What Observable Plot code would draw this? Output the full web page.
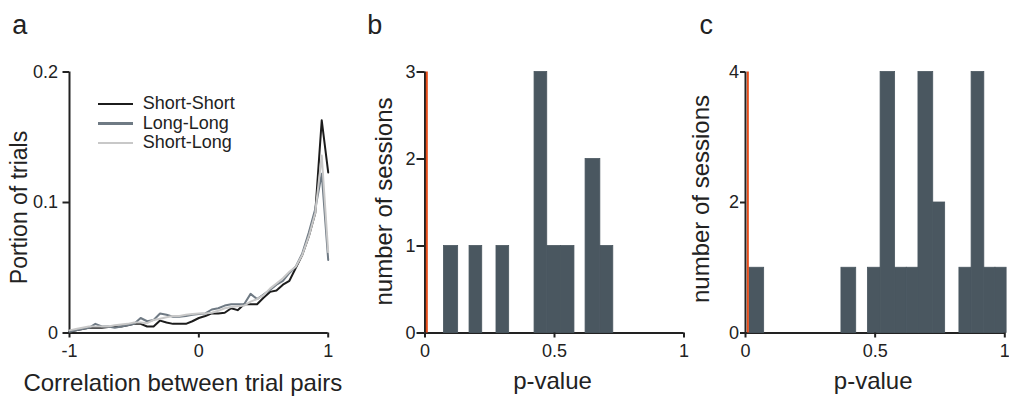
<!DOCTYPE html>
<html>
<head>
<meta charset="utf-8">
<script src="https://cdn.jsdelivr.net/npm/d3@7"></script>
<script src="https://cdn.jsdelivr.net/npm/@observablehq/plot@0.6"></script>
<style>
html, body { margin: 0; padding: 0; background: #fff; }
#root { position: relative; width: 1009px; height: 396px; overflow: hidden; font-family: "Liberation Sans", Arial, sans-serif; }
#root svg { position: absolute; left: 0; top: 0; overflow: visible; }
.legend { position: absolute; left: 98px; top: 94.3px; font-size: 18px; color: #222; }
.legend .row { height: 19.5px; line-height: 19.5px; display: flex; align-items: center; white-space: nowrap; }
.legend .sw { display: inline-block; width: 35px; height: 2.5px; margin-right: 9.7px; }
</style>
</head>
<body>
<div id="root"></div>
<script>
// ---------- Panel a: distribution of correlations ----------
const corrX = [-1, -0.95, -0.9, -0.85, -0.8, -0.75, -0.7, -0.65, -0.6, -0.55, -0.5, -0.45, -0.4, -0.35, -0.3, -0.25, -0.2, -0.15, -0.1, -0.05,
  0, 0.05, 0.1, 0.15, 0.2, 0.25, 0.3, 0.35, 0.4, 0.45, 0.5, 0.55, 0.6, 0.65, 0.7, 0.75, 0.8, 0.85, 0.9, 0.95, 1.0];
const shortShort = [0.001, 0.002, 0.003, 0.004, 0.004, 0.004, 0.0045, 0.005, 0.005, 0.006, 0.007, 0.007, 0.005, 0.005, 0.0095, 0.008, 0.007, 0.007, 0.007, 0.009,
  0.0115, 0.013, 0.015, 0.015, 0.0155, 0.019, 0.0175, 0.022, 0.022, 0.022, 0.027, 0.0315, 0.0325, 0.037, 0.040, 0.050, 0.060, 0.074, 0.092, 0.163, 0.123];
const longLong = [0.001, 0.002, 0.003, 0.004, 0.007, 0.005, 0.005, 0.004, 0.005, 0.006, 0.007, 0.0115, 0.009, 0.010, 0.015, 0.014, 0.0125, 0.0125, 0.013, 0.014,
  0.0145, 0.015, 0.018, 0.019, 0.021, 0.022, 0.022, 0.022, 0.030, 0.026, 0.0295, 0.033, 0.037, 0.040, 0.046, 0.051, 0.061, 0.077, 0.095, 0.122, 0.056];
const shortLong = [0.002, 0.003, 0.004, 0.005, 0.005, 0.005, 0.005, 0.006, 0.0065, 0.007, 0.008, 0.008, 0.0075, 0.010, 0.011, 0.012, 0.013, 0.013, 0.014, 0.0145,
  0.015, 0.015, 0.0155, 0.017, 0.019, 0.020, 0.0205, 0.021, 0.024, 0.026, 0.029, 0.034, 0.038, 0.042, 0.047, 0.051, 0.060, 0.074, 0.092, 0.136, 0.062];
const seriesNames = ["Short-Short", "Long-Long", "Short-Long"];
const seriesValues = [shortShort, longLong, shortLong];
const seriesColors = ["#1c1c1c", "#6f7a84", "#c8c8c8"];
const aXTicks = [-1, 0, 1];
const aYTicks = [0, 0.1, 0.2];

// ---------- Panel b: p-value histogram ----------
const bBinLo = [0.073, 0.172, 0.276, 0.423, 0.472, 0.525, 0.620, 0.677];
const bBinHi = [0.128, 0.221, 0.325, 0.472, 0.525, 0.577, 0.677, 0.727];
const bCount = [1, 1, 1, 3, 1, 1, 2, 1];
const bThreshold = 0.007;
const bYTicks = [0, 1, 2, 3];

// ---------- Panel c: p-value histogram ----------
const cBinLo = [0.015, 0.370, 0.472, 0.521, 0.577, 0.622, 0.667, 0.724, 0.825, 0.872, 0.921, 0.964];
const cBinHi = [0.072, 0.427, 0.521, 0.577, 0.622, 0.667, 0.724, 0.770, 0.872, 0.921, 0.964, 1.007];
const cCount = [1, 1, 1, 4, 1, 1, 4, 2, 1, 4, 1, 1];
const cThreshold = 0.009;
const cYTicks = [0, 2, 4];

const pTicks = [0, 0.5, 1];

// ---------- styling ----------
const W = 1009, H = 396;
const FONT = "'Liberation Sans', Arial, sans-serif";
const INK = "#222222";
const BAR = "#4a5760";
const ORANGE = "#e84e1b";
const root = document.getElementById("root");
const baseStyle = {fontFamily: FONT, background: "transparent", overflow: "visible", color: INK};
const fmt = d => String(d);
const TICKFS = 18;

// Panel a
const aMarks = [
  Plot.ruleY([0], {stroke: INK, strokeWidth: 2}),
  Plot.ruleX([-1], {y1: 0, y2: 0.2, stroke: INK, strokeWidth: 2}),
  Plot.axisX({ticks: aXTicks, tickFormat: fmt, tickSize: 5, tickPadding: 6.5, fontSize: TICKFS, label: null, strokeWidth: 2}),
  Plot.axisY({ticks: aYTicks, tickFormat: fmt, tickSize: 6.5, tickPadding: 5, fontSize: TICKFS, label: null, strokeWidth: 2})
];
seriesNames.forEach((name, k) => {
  const pts = corrX.map((x, i) => ({x, y: seriesValues[k][i]}));
  aMarks.push(Plot.line(pts, {x: "x", y: "y", stroke: seriesColors[k], strokeWidth: 2}));
});
aMarks.push(
  Plot.text(["Portion of trials"], {frameAnchor: "left", rotate: -90, dx: -42.3, dy: 5, textAnchor: "middle", lineAnchor: "bottom", fontSize: 23, fill: INK}),
  Plot.text(["Correlation between trial pairs"], {frameAnchor: "bottom", dx: -16, dy: 58, textAnchor: "middle", lineAnchor: "bottom", fontSize: 24, fill: INK}),
  Plot.text(["a"], {frameAnchor: "top-left", dx: 11.7 - 69, dy: 33.3 - 71.5, textAnchor: "start", lineAnchor: "bottom", fontSize: 27, fill: INK})
);
root.appendChild(Plot.plot({
  width: W, height: H,
  marginLeft: 69, marginRight: W - 327.7, marginTop: 71.5, marginBottom: H - 332.5,
  style: baseStyle,
  x: {domain: [-1, 1]},
  y: {domain: [0, 0.2]},
  marks: aMarks
}));

// Histogram panel builder
function histPanel(lo, hi, counts, thr, yTicks, left, right, label, labelX, yTitleDx, yTitleDy, tickSize, tickPad) {
  const bins = counts.map((n, i) => ({lo: lo[i], hi: hi[i], n}));
  const yMax = yTicks[yTicks.length - 1];
  return Plot.plot({
    width: W, height: H,
    marginLeft: left, marginRight: W - right, marginTop: 71.5, marginBottom: H - 332.5,
    style: baseStyle,
    x: {domain: [0, 1]},
    y: {domain: [0, yMax]},
    marks: [
      Plot.ruleY([0], {stroke: INK, strokeWidth: 2.2}),
      Plot.rect(bins, {x1: "lo", x2: "hi", y1: 0, y2: "n", fill: BAR, stroke: BAR, strokeWidth: 0.8}),
      Plot.ruleX([0], {y1: 0, y2: yMax, stroke: INK, strokeWidth: 2}),
      Plot.ruleX([thr], {y1: 0, y2: yMax, stroke: ORANGE, strokeWidth: 2}),
      Plot.axisX({ticks: pTicks, tickFormat: fmt, tickSize: 5, tickPadding: 6.5, fontSize: TICKFS, label: null, strokeWidth: 2}),
      Plot.axisY({ticks: yTicks, tickFormat: fmt, tickSize: tickSize, tickPadding: tickPad, fontSize: TICKFS, label: null, strokeWidth: 2}),
      Plot.text(["number of sessions"], {frameAnchor: "left", rotate: -90, dx: yTitleDx, dy: yTitleDy, textAnchor: "middle", lineAnchor: "bottom", fontSize: 24, fill: INK}),
      Plot.text(["p-value"], {frameAnchor: "bottom", dx: -2, dy: 55.5, textAnchor: "middle", lineAnchor: "bottom", fontSize: 24, fill: INK}),
      Plot.text([label], {frameAnchor: "top-left", dx: labelX - left, dy: 33.3 - 71.5, textAnchor: "start", lineAnchor: "bottom", fontSize: 27, fill: INK})
    ]
  });
}

root.appendChild(histPanel(bBinLo, bBinHi, bCount, bThreshold, bYTicks, 424.5, 683.5, "b", 366.7, -33.5, -1, 8, 1.5));
root.appendChild(histPanel(cBinLo, cBinHi, cCount, cThreshold, cYTicks, 745, 1004.3, "c", 699, -37, -3.5, 5, 1.5));

// Legend for panel a
const legend = document.createElement("div");
legend.className = "legend";
seriesNames.forEach((name, k) => {
  const row = document.createElement("div");
  row.className = "row";
  const sw = document.createElement("span");
  sw.className = "sw";
  sw.style.background = seriesColors[k];
  const t = document.createElement("span");
  t.textContent = name;
  row.appendChild(sw);
  row.appendChild(t);
  legend.appendChild(row);
});
root.appendChild(legend);
</script>
</body>
</html>
